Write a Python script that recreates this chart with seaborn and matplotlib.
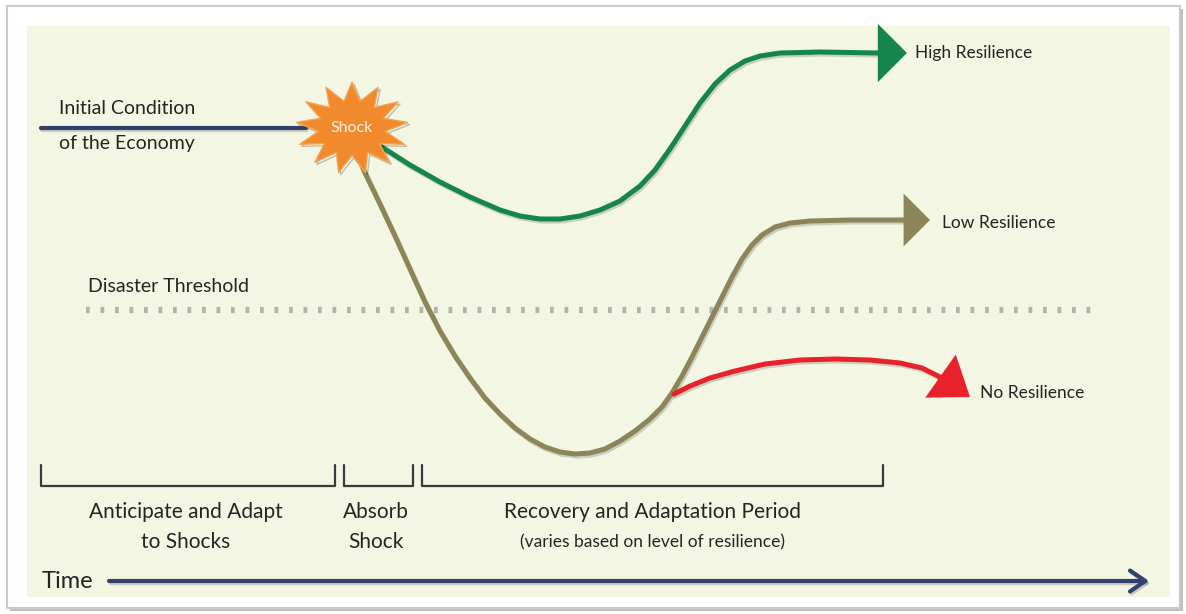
"""
Ekonomik dayaniklilik diyagrami: sok sonrasi yuksek / dusuk / hic dayaniklilik yollari.
"""

import matplotlib.pyplot as plt
import matplotlib.patheffects as pe
import pandas as pd
import seaborn as sns
from matplotlib.patches import Rectangle
from matplotlib.path import Path

# --- veri (resimden okunan konumlar, piksel olcegi: x = zaman, y = asagi dogru) ---
initial_x = [41, 306]
initial_y = [128, 128]

shock_x = [352]
shock_y = [128]

high_x = [368, 385, 410, 440, 470, 500, 520, 540, 560, 580, 600, 620, 640, 655, 670,
          685, 700, 715, 730, 745, 760, 780, 820, 879, 907]
high_y = [138, 149, 165, 182, 197, 210, 216, 219, 219, 216, 210, 201, 186, 170, 149,
          126, 103, 84, 70, 61, 56, 53, 52, 53, 53]

low_x = [356, 365, 380, 395, 410, 425, 440, 455, 470, 485, 500, 515, 530, 545, 560,
         575, 590, 605, 620, 635, 650, 662, 672, 682, 692, 702, 712, 722, 732, 742,
         752, 762, 775, 790, 810, 850, 904, 930]
low_y = [152, 173, 204, 236, 269, 302, 331, 356, 378, 398, 414, 428, 439, 447, 452,
         454, 453, 449, 441, 431, 419, 407, 393, 376, 357, 337, 317, 297, 277, 259,
         245, 235, 227, 223, 221, 220, 220, 220]

no_x = [674, 690, 710, 735, 765, 800, 835, 870, 900, 922, 946, 970]
no_y = [394, 386, 378, 371, 364, 360, 359, 360, 363, 368, 380, 397]

threshold_x = [86, 1100]
threshold_y = 310

bracket_start = [41, 344, 422]
bracket_end = [335, 413, 883]
bracket_top = 465
bracket_bottom = 486
phase_top = ["Anticipate and Adapt", "Absorb", "Recovery and Adaptation Period"]
phase_bottom = ["to Shocks", "Shock", "(varies based on level of resilience)"]
phase_x = [186, 376, 652]

time_x = [109, 1149]
time_y = 581

outcome_labels = ["High Resilience", "Low Resilience", "No Resilience"]

# --- renkler ---
PANEL = "#f2f6e2"
NAVY = "#34406b"
GREEN = "#16854a"
OLIVE = "#8c8558"
RED = "#e8212b"
ORANGE = "#f08a2c"
TEXT = "#252525"

sns.set_theme(style="white")
plt.rcParams["font.family"] = ["Lato", "DejaVu Sans"]

fig = plt.figure(figsize=(11.86, 6.14), dpi=100)
ax = fig.add_axes([0, 0, 1, 1])
ax.set_xlim(0, 1186)
ax.set_ylim(614, 0)
ax.axis("off")

# kart ve panel
ax.add_patch(Rectangle((7, 6), 1173, 602, facecolor="white", edgecolor="#c9c9c9",
                       lw=1.5, zorder=0,
                       path_effects=[pe.SimplePatchShadow(offset=(2, -2), alpha=0.35),
                                     pe.Normal()]))
ax.add_patch(Rectangle((27, 26), 1143, 571, facecolor=PANEL, edgecolor="none", zorder=0.5))

shadow = [pe.SimpleLineShadow(offset=(1, -1.5), alpha=0.18), pe.Normal()]


def egri(x, y, renk, lw=3.6):
    df = pd.DataFrame({"x": x, "y": y})
    sns.lineplot(data=df, x="x", y="y", sort=False, estimator=None, color=renk,
                 lw=lw, ax=ax, zorder=3, solid_capstyle="round",
                 solid_joinstyle="round", path_effects=shadow)


def ok_basi(x, y, renk, uzunluk, genislik):
    ax.annotate("", xy=(x[-1], y[-1]), xytext=(x[-2], y[-2]), zorder=4,
                arrowprops=dict(arrowstyle=f"-|>,head_length={uzunluk},head_width={genislik}",
                                color=renk, lw=0, mutation_scale=1, shrinkA=0, shrinkB=0))


# baslangic cizgisi
egri(initial_x, initial_y, NAVY, lw=3.0)

# esik cizgisi
ax.plot(threshold_x, [threshold_y, threshold_y], color="#b3b3ab", lw=4.5,
        linestyle=(0, (0.6, 1.72)), zorder=2, dash_capstyle="butt")

# yollar (son nokta ok ucunun sivri kosesi; cizgi ok tabaninda biter)
egri(low_x[:-1], low_y[:-1], OLIVE)
egri(no_x[:-1], no_y[:-1], RED)
egri(high_x[:-1], high_y[:-1], GREEN)
ok_basi(high_x, high_y, GREEN, 21, 21)
ok_basi(low_x, low_y, OLIVE, 19, 19)
ok_basi(no_x, no_y, RED, 26, 19)

# sok yildizi
yildiz = Path.unit_regular_star(13, 0.6)
v = yildiz.vertices.copy()
v[:, 1] *= 0.82
yildiz = Path(v, yildiz.codes)
ax.plot(shock_x, shock_y, marker=yildiz, markersize=80, color=ORANGE,
        markeredgecolor="#f5a552", markeredgewidth=1, zorder=5, linestyle="none",
        path_effects=[pe.SimpleLineShadow(offset=(1.5, -1.5), alpha=0.25), pe.Normal()])
ax.text(shock_x[0], shock_y[0], "Shock", color="#fdf1e4", fontsize=11.5,
        ha="center", va="center", zorder=6)

# etiketler
ax.text(59, 109, "Initial Condition", fontsize=14, color=TEXT, va="center")
ax.text(59, 144, "of the Economy", fontsize=14, color=TEXT, va="center")
ax.text(88, 286, "Disaster Threshold", fontsize=14, color=TEXT, va="center")
ax.text(915, high_y[-1], outcome_labels[0], fontsize=12.5, color=TEXT, va="center")
ax.text(942, low_y[-1] + 3, outcome_labels[1], fontsize=12.5, color=TEXT, va="center")
ax.text(980, no_y[-1] - 4, outcome_labels[2], fontsize=12.5, color=TEXT, va="center")

# donem parantezleri
for s, e in zip(bracket_start, bracket_end):
    ax.plot([s, s, e, e], [bracket_top, bracket_bottom, bracket_bottom, bracket_top],
            color="#3a3a3a", lw=1.6, zorder=2)

for i, (x, ust, alt) in enumerate(zip(phase_x, phase_top, phase_bottom)):
    ax.text(x, 512, ust, fontsize=15, color=TEXT, ha="center", va="center")
    ax.text(x, 542, alt, fontsize=15 if i < 2 else 12.5, color=TEXT,
            ha="center", va="center")

# zaman ekseni
ax.text(42, time_y, "Time", fontsize=17, color=TEXT, va="center")
ax.annotate("", xy=(time_x[1], time_y), xytext=(time_x[0], time_y), zorder=3,
            arrowprops=dict(arrowstyle="->,head_length=1.1,head_width=0.75",
                            color=NAVY, lw=3.0, mutation_scale=10, shrinkA=0, shrinkB=0,
                            path_effects=shadow))

fig.savefig("out.png", dpi=100, facecolor="white")
